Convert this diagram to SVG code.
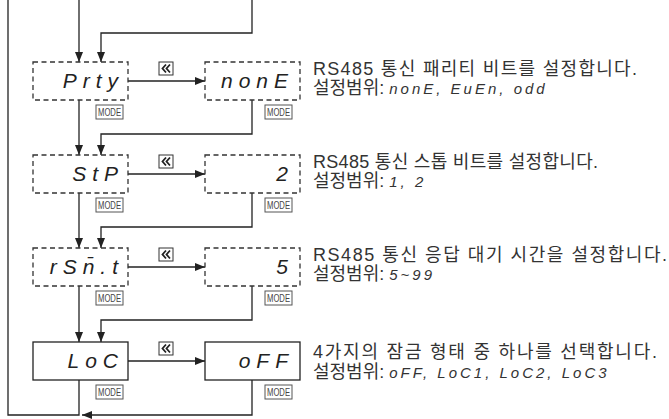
<svg xmlns="http://www.w3.org/2000/svg" xmlns:xlink="http://www.w3.org/1999/xlink" width="669" height="419" viewBox="0 0 669 419">
<style>
.ln{fill:none;stroke:#222;stroke-width:1.3}
.box{fill:#fff;stroke:#333;stroke-width:1.3;stroke-dasharray:5 3.5}
.sbox{fill:#fff;stroke:#222;stroke-width:1.3}
.seg{font-family:"Liberation Sans",sans-serif;font-style:italic;font-size:21px;fill:#222;letter-spacing:6px;text-anchor:end}
.desc{font-family:"Liberation Sans","Noto Sans CJK KR",sans-serif;font-size:18px;fill:#333}
.val{font-family:"Liberation Sans",sans-serif;font-style:italic;font-size:15px;letter-spacing:3px}
.mt{font-family:"Liberation Sans",sans-serif;font-size:10px;fill:#444}
</style>
<defs>
<marker id="ah" viewBox="0 0 10 8" refX="10" refY="4" markerWidth="10" markerHeight="8" markerUnits="userSpaceOnUse" orient="auto"><path d="M0,0 L10,4 L0,8 z" fill="#222"/></marker>
<g id="ff"><rect x="0" y="0" width="14" height="13" fill="#fff" stroke="#333" stroke-width="1"/><path d="M7,2.5 L3.5,6.5 L7,10.5 M11,2.5 L7.5,6.5 L11,10.5" fill="none" stroke="#222" stroke-width="1.8"/></g>
<g id="mode"><rect x="0" y="0" width="27" height="14" fill="#fff" stroke="#555" stroke-width="1"/><text class="mt" x="2" y="11" textLength="23" lengthAdjust="spacingAndGlyphs">MODE</text></g>
</defs>
<g id="connectors">
<path class="ln" d="M79,0 V62" marker-end="url(#ah)"/>
<path class="ln" d="M252,0 V33 H101 V62" marker-end="url(#ah)"/>
<path class="ln" d="M128,81 H205" marker-end="url(#ah)"/>
<path class="ln" d="M79,100 V155" marker-end="url(#ah)"/>
<path class="ln" d="M252,100 V134 H101 V155" marker-end="url(#ah)"/>
<path class="ln" d="M128,174 H205" marker-end="url(#ah)"/>
<path class="ln" d="M79,193 V248" marker-end="url(#ah)"/>
<path class="ln" d="M252,193 V227 H101 V248" marker-end="url(#ah)"/>
<path class="ln" d="M128,267 H205" marker-end="url(#ah)"/>
<path class="ln" d="M79,286 V342" marker-end="url(#ah)"/>
<path class="ln" d="M252,286 V320 H101 V342" marker-end="url(#ah)"/>
<path class="ln" d="M128,361 H205" marker-end="url(#ah)"/>
<path class="ln" d="M79,380 V415 H8 V0"/>
<path class="ln" d="M252,380 V415 H82" marker-end="url(#ah)"/>
<use xlink:href="#ff" x="159" y="62"/>
<use xlink:href="#ff" x="159" y="155"/>
<use xlink:href="#ff" x="159" y="248"/>
<use xlink:href="#ff" x="159" y="342"/>
</g>
<g id="n-prty"><rect class="box" x="33" y="62" width="95" height="38"/><text class="seg" x="124" y="88">Prty</text><use xlink:href="#mode" x="96" y="105"/></g>
<g id="n-none"><rect class="box" x="205" y="62" width="95" height="38"/><text class="seg" x="294" y="88">nonE</text><use xlink:href="#mode" x="265" y="105"/></g>
<g id="n-stp"><rect class="box" x="33" y="155" width="95" height="38"/><text class="seg" x="124" y="181">StP</text><use xlink:href="#mode" x="96" y="198"/></g>
<g id="n-2"><rect class="box" x="205" y="155" width="95" height="38"/><text class="seg" x="294" y="181">2</text><use xlink:href="#mode" x="265" y="198"/></g>
<g id="n-rsnt"><rect class="box" x="33" y="248" width="95" height="38"/><text class="seg" x="124" y="274">rSn̄.t</text><use xlink:href="#mode" x="96" y="291"/></g>
<g id="n-5"><rect class="box" x="205" y="248" width="95" height="38"/><text class="seg" x="294" y="274">5</text><use xlink:href="#mode" x="265" y="291"/></g>
<g id="n-loc"><rect class="sbox" x="33" y="342" width="95" height="38"/><text class="seg" x="124" y="368">LoC</text><use xlink:href="#mode" x="96" y="385"/></g>
<g id="n-off"><rect class="sbox" x="205" y="342" width="95" height="38"/><text class="seg" x="294" y="368">oFF</text><use xlink:href="#mode" x="265" y="385"/></g>
<g id="desc">
<text class="desc" x="313" y="75" textLength="324" lengthAdjust="spacing">RS485 통신 패리티 비트를 설정합니다.</text>
<text class="desc" x="313" y="94">설정범위: <tspan class="val">nonE, EuEn, odd</tspan></text>
<text class="desc" x="313" y="168" textLength="285" lengthAdjust="spacing">RS485 통신 스톱 비트를 설정합니다.</text>
<text class="desc" x="313" y="187">설정범위:  <tspan class="val">1, 2</tspan></text>
<text class="desc" x="313" y="261" textLength="354" lengthAdjust="spacing">RS485 통신 응답 대기 시간을 설정합니다.</text>
<text class="desc" x="313" y="280">설정범위: <tspan class="val">5~99</tspan></text>
<text class="desc" x="313" y="358" textLength="344" lengthAdjust="spacing">4가지의 잠금 형태 중 하나를 선택합니다.</text>
<text class="desc" x="313" y="378">설정범위: <tspan class="val">oFF, LoC1, LoC2, LoC3</tspan></text>
</g>
</svg>
